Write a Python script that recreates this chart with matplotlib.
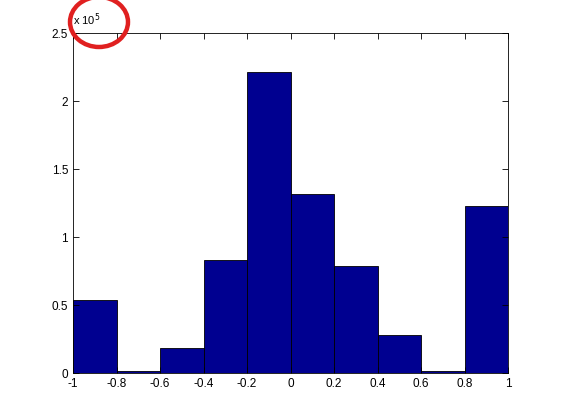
import matplotlib
matplotlib.use("Agg")
import matplotlib.pyplot as plt
from matplotlib.patches import Ellipse

bin_edges = [-1, -0.8, -0.6, -0.4, -0.2, 0, 0.2, 0.4, 0.6, 0.8, 1]
counts = [0.537, 0.012, 0.184, 0.83, 2.21, 1.315, 0.787, 0.279, 0.012, 1.225]  # x 1e5
xticks = [-1, -0.8, -0.6, -0.4, -0.2, 0, 0.2, 0.4, 0.6, 0.8, 1]
xticklabels = ["-1", "-0.8", "-0.6", "-0.4", "-0.2", "0", "0.2", "0.4", "0.6", "0.8", "1"]
yticks = [0, 0.5, 1, 1.5, 2, 2.5]
yticklabels = ["0", "0.5", "1", "1.5", "2", "2.5"]

plt.rcParams['font.family'] = ['Liberation Sans', 'DejaVu Sans']
fig = plt.figure(figsize=(5.61, 4.2), dpi=100)
ax = fig.add_axes([73/561, 47/420, 435/561, 340/420])
widths = [bin_edges[i+1] - bin_edges[i] for i in range(len(counts))]
ax.bar(bin_edges[:-1], counts, width=widths, align='edge',
       color='#000090', edgecolor='black', linewidth=0.6)
ax.set_xlim(-1, 1)
ax.set_ylim(0, 2.5)
ax.set_xticks(xticks)
ax.set_xticklabels(xticklabels)
ax.set_yticks(yticks)
ax.set_yticklabels(yticklabels)
ax.tick_params(direction='in', top=True, right=True, labelsize=8.5, length=4, width=0.6)
for s in ax.spines.values():
    s.set_linewidth(0.6)
fig.text(73/561, 1 - 20/420, r"x 10$^5$", fontsize=8, ha='left', va='center')
ell = Ellipse((99/561, 1 - 22/420), 58/561, 50/420, transform=fig.transFigure,
              fill=False, edgecolor='#e02020', linewidth=3.2)
fig.patches.append(ell)
fig.savefig("out.png", dpi=100)
